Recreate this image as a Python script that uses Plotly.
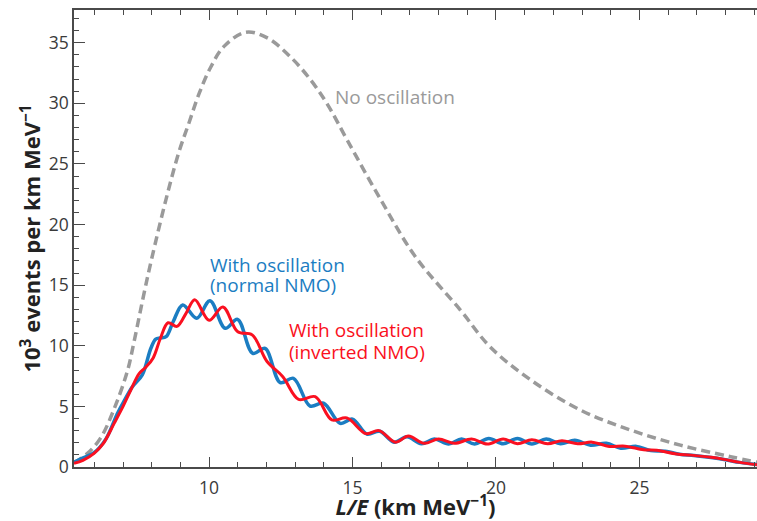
import plotly.graph_objects as go

# ---- data ----
no_osc_x = [5.29, 5.75, 6.22, 6.69, 7.15, 7.38, 7.72, 8.0, 8.5, 8.95, 9.30, 9.65, 10.06, 10.52,
            11.28, 12.03, 12.85, 13.55, 14.13, 14.83, 15.97, 17.19, 18.76, 19.8, 21.2, 22.94,
            24.69, 26.43, 28.18, 29.1]
no_osc_y = [0.35, 1.1, 2.4, 4.8, 7.9, 10.3, 14.2, 17.2, 22.1, 26.0, 28.4, 30.8, 33.0, 34.7,
            35.87, 35.4, 33.8, 31.9, 29.9, 26.9, 22.1, 17.35, 12.95, 9.9, 7.2, 4.7,
            3.05, 1.8, 0.85, 0.4]

normal_x = [5.29, 5.55, 6.0, 6.4, 6.8, 7.05, 7.32, 7.67, 7.97, 8.14, 8.3, 8.5, 8.75, 9.08,
            9.57, 10.03, 10.56, 10.99, 11.52, 11.95, 12.48, 12.94, 13.52, 13.99, 14.57, 15.0,
            15.5, 15.95, 16.45, 16.9, 17.4, 17.85, 18.35, 18.8, 19.25, 19.75, 20.25, 20.75,
            21.25, 21.75, 22.25, 22.75, 23.3, 23.85, 24.35, 24.9, 25.4, 25.9, 26.4, 26.9,
            27.5, 28.0, 28.5, 29.1]
normal_y = [0.4, 0.7, 1.2, 2.3, 4.4, 5.5, 6.6, 7.6, 9.8, 10.55, 10.65, 10.75, 12.0, 13.37,
            12.27, 13.72, 11.44, 12.18, 9.38, 9.79, 6.96, 7.32, 5.03, 5.26, 3.6, 3.95,
            2.72, 2.95, 2.05, 2.5, 1.92, 2.3, 1.9, 2.3, 1.9, 2.35, 1.92, 2.35,
            1.9, 2.3, 1.92, 2.2, 1.8, 1.95, 1.55, 1.7, 1.35, 1.3, 1.05, 0.95,
            0.78, 0.6, 0.38, 0.2]

inverted_x = [5.29, 5.6, 5.99, 6.3, 6.69, 7.0, 7.27, 7.56, 7.8, 8.05, 8.3, 8.57, 8.88, 9.2,
              9.5, 10.0, 10.48, 11.0, 11.5, 12.02, 12.57, 13.12, 13.7, 14.28, 14.8, 15.47,
              15.92, 16.5, 16.95, 17.5, 18.0, 18.55, 19.15, 19.7, 20.25, 20.75, 21.25, 21.8,
              22.3, 22.85, 23.35, 23.95, 24.5, 25.15, 25.6, 26.3, 26.8, 27.5, 27.95, 28.5, 29.1]
inverted_y = [0.3, 0.55, 1.13, 1.9, 3.6, 5.0, 6.35, 7.7, 8.25, 9.0, 10.6, 11.9, 11.6, 12.7,
              13.8, 12.1, 13.2, 11.15, 10.9, 8.7, 7.45, 5.58, 5.8, 3.88, 4.05, 2.75,
              3.0, 2.05, 2.55, 1.95, 2.3, 1.95, 2.3, 1.9, 2.3, 1.92, 2.25, 1.92,
              2.17, 1.92, 2.05, 1.7, 1.72, 1.42, 1.38, 1.08, 0.98, 0.8, 0.63, 0.38, 0.18]

x_ticks = [10, 15, 20, 25]
y_ticks = [0, 5, 10, 15, 20, 25, 30, 35]

FONT = "Open Sans"
AX = "#4a4a4a"
GRAY = "#9a9a9a"
BLUE = "#1b7dc2"
RED = "#fa1020"

fig = go.Figure()
fig.add_trace(go.Scatter(x=no_osc_x, y=no_osc_y, mode="lines", line_shape="spline",
                         line=dict(color=GRAY, width=3.5, dash="9px,5px"),
                         hoverinfo="skip", showlegend=False))
fig.add_trace(go.Scatter(x=normal_x, y=normal_y, mode="lines", line_shape="spline",
                         line=dict(color=BLUE, width=3.5, smoothing=1.0),
                         hoverinfo="skip", showlegend=False))
fig.add_trace(go.Scatter(x=inverted_x, y=inverted_y, mode="lines", line_shape="spline",
                         line=dict(color=RED, width=3, smoothing=1.0),
                         hoverinfo="skip", showlegend=False))

fig.update_layout(
    width=757, height=521,
    margin=dict(l=74, r=0, t=10, b=54, autoexpand=False),
    plot_bgcolor="white", paper_bgcolor="white",
    font=dict(family=FONT, color="#333333"),
    xaxis=dict(range=[5.29, 29.1], showgrid=False, zeroline=False,
               showline=True, linecolor=AX, linewidth=1.5, mirror="ticks",
               ticks="inside", ticklen=10, tickwidth=1.3, tickcolor=AX,
               tickvals=x_ticks, tickfont=dict(size=17.5, color="#3a3a3a"),
               ticklabelstandoff=4,
               minor=dict(dtick=1, ticks="inside", ticklen=5, tickcolor=AX, tickwidth=1),
               title=dict(text="<b><i>L/E</i> (km MeV<sup>−1</sup>)</b>",
                          font=dict(size=22, color="#222222"), standoff=8)),
    yaxis=dict(range=[0, 37.7], showgrid=False, zeroline=False,
               showline=True, linecolor=AX, linewidth=1.5,
               ticks="inside", ticklen=11, tickwidth=1.3, tickcolor=AX,
               tickvals=y_ticks, tickfont=dict(size=17.5, color="#3a3a3a"),
               minor=dict(dtick=1, ticks="inside", ticklen=5, tickcolor=AX, tickwidth=1),
               title=dict(text="<b>10<sup>3</sup> events per km MeV<sup>−1</sup></b>",
                          font=dict(size=22, color="#222222"), standoff=2)),
    yaxis2=dict(range=[0, 37.7], overlaying="y", side="right", showgrid=False,
                zeroline=False, showline=False, ticks="inside", ticklen=5,
                tickcolor=AX, tickwidth=1.3, tickvals=y_ticks, showticklabels=False),
)

labels = [
    (14.33, 30.53, "No oscillation", GRAY),
    (9.97, 16.7, "With oscillation", BLUE),
    (9.97, 15.0, "(normal NMO)", BLUE),
    (12.72, 11.3, "With oscillation", RED),
    (12.72, 9.5, "(inverted NMO)", RED),
]
for lx, ly, txt, col in labels:
    fig.add_annotation(x=lx, y=ly, xref="x", yref="y", text=txt, showarrow=False,
                       xanchor="left", yanchor="middle",
                       font=dict(size=19, color=col, family=FONT))

# remove the page's default body margin so the 757x521 figure fills the window exactly
fig.write_html("out.html",
               config={"displayModeBar": False},
               post_script="document.body.style.margin='0';document.body.style.overflow='hidden';")
